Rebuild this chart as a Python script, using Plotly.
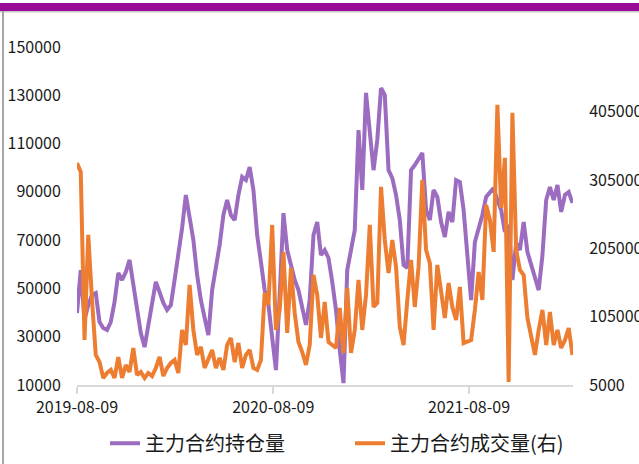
import pandas as pd
import plotly.graph_objects as go

# weekly observation dates
start_date = "2019-08-09"
n_weeks = 133
dates = pd.date_range(start_date, periods=n_weeks, freq="7D")

# 主力合约持仓量 (left axis)
open_interest = [
    39800, 57600, 37000, 43100, 47300, 48100, 36100, 33600, 32800, 36100,
    44400, 56400, 53500, 56800, 61800, 51400, 41100, 31500, 25700, 34900,
    46000, 52700, 48500, 44000, 41100, 43100, 53500, 63000, 75000, 88700,
    80400, 70100, 55600, 45200, 37800, 30700, 49300, 58500, 68000, 80400,
    86600, 80400, 78300, 88700, 96200, 94900, 100300, 90800, 72100, 61000,
    49300, 43100, 28600, 16200, 47300, 81200, 65900, 59700, 53500, 49300,
    42300, 34900, 45200, 72100, 77500, 63800, 65900, 62600, 52700, 41100,
    24500, 10800, 57600, 65900, 74200, 115600, 90800, 131000, 116900, 99000,
    111500, 133000, 130100, 99000, 95700, 88700, 78300, 59700, 58500, 99000,
    101100, 104000, 106100, 82500, 78300, 90800, 87900, 77500, 71300, 81700,
    77500, 94900, 94100, 82500, 65900, 45200, 69200, 74200, 80400, 87900,
    89900, 91600, 86600, 82500, 73400, 76300, 53500, 68800, 65900, 77500,
    65100, 59700, 54700, 49300, 63800, 86600, 92000, 86600, 92800, 81700,
    88700, 89900, 85400,
]

# 主力合约成交量 (right axis)
volume = [
    330000, 317000, 71000, 225000, 129500, 49000, 38700, 15300, 22600, 27000,
    15300, 46000, 15300, 34300, 24000, 59200, 19700, 24000, 15300, 22600,
    18200, 29900, 46000, 18200, 29900, 37200, 41600, 22600, 85600, 63600,
    151500, 85600, 49000, 60700, 29900, 41600, 56300, 29900, 44600, 27000,
    63600, 73900, 38700, 66500, 29900, 49000, 56300, 29900, 27000, 41600,
    139800, 122200, 239400, 85600, 114900, 199800, 81200, 176400, 110500, 68000,
    53300, 34300, 63600, 166200, 136900, 73900, 126600, 68000, 63600, 59200,
    117800, 51900, 147100, 51900, 85600, 158800, 85600, 136900, 239400, 119300,
    125100, 295100, 217400, 169100, 217400, 177900, 90000, 63600, 129500, 188100,
    119300, 177900, 305300, 202800, 183700, 85600, 180800, 136900, 103200, 154400,
    119300, 100200, 148600, 66500, 68000, 70900, 114900, 170500, 129500, 268700,
    246700, 200000, 415200, 264300, 337600, 9400, 403500, 202800, 173500, 166200,
    103200, 78300, 49000, 85600, 114900, 63600, 111900, 63600, 85600, 59200,
    70900, 88500, 49000,
]

x_tick_labels = ["2019-08-09", "2020-08-09", "2021-08-09"]
left_ticks = [10000, 30000, 50000, 70000, 90000, 110000, 130000, 150000]
right_ticks = [5000, 105000, 205000, 305000, 405000]

font_family = "Noto Sans CJK SC"
purple = "#9B6CBF"
orange = "#ED7D31"

fig = go.Figure()
fig.add_trace(go.Scatter(
    x=dates, y=open_interest, name="主力合约持仓量", mode="lines",
    line=dict(color=purple, width=4), yaxis="y", legend="legend",
))
fig.add_trace(go.Scatter(
    x=dates, y=volume, name="主力合约成交量(右)", mode="lines",
    line=dict(color=orange, width=4), yaxis="y2", legend="legend2",
))

legend_common = dict(
    orientation="h", xanchor="left", y=-0.172, yanchor="middle",
    font=dict(size=20, color="#1a1a1a"), bgcolor="rgba(0,0,0,0)",
)

fig.update_layout(
    width=639, height=464,
    margin=dict(l=77, r=66, t=47, b=79, autoexpand=False),
    paper_bgcolor="white", plot_bgcolor="white",
    font=dict(family=font_family, size=16, color="#1a1a1a"),
    showlegend=True,
    legend=dict(x=(105 - 77) / 496, **legend_common),
    legend2=dict(x=(350 - 77) / 496, **legend_common),
    xaxis=dict(
        type="date", range=["2019-08-09", "2022-02-19"],
        tickvals=x_tick_labels, ticktext=x_tick_labels,
        showgrid=False, zeroline=False,
        showline=True, linecolor="#d9d9d9", linewidth=2,
        ticks="outside", ticklen=7, tickcolor="#d9d9d9", tickwidth=1.5,
        tickfont=dict(size=16),
    ),
    yaxis=dict(
        range=[10000, 150000], tickvals=left_ticks, tickformat="d",
        showgrid=False, zeroline=False, showline=False,
        ticks="outside", ticklen=12, tickcolor="rgba(0,0,0,0)",
        tickfont=dict(size=16),
    ),
    yaxis2=dict(
        range=[5000, 500000], tickvals=right_ticks, tickformat="d",
        overlaying="y", side="right",
        showgrid=False, zeroline=False, showline=False,
        ticks="outside", ticklen=12, tickcolor="rgba(0,0,0,0)",
        tickfont=dict(size=16),
    ),
    shapes=[
        # thin grey line under the band
        dict(type="rect", xref="paper", yref="paper", x0=-0.2, x1=1.2,
             y0=(385 - 12.5) / 338, y1=(385 - 10) / 338,
             fillcolor="#c8c8c8", line=dict(width=0), layer="above"),
        # top magenta band
        dict(type="rect", xref="paper", yref="paper", x0=-0.2, x1=1.2,
             y0=(385 - 11) / 338, y1=(385 - 3) / 338,
             fillcolor="#990A99", line=dict(width=0), layer="above"),
        # left grey border
        dict(type="line", xref="paper", yref="paper",
             x0=(3 - 77) / 496, x1=(3 - 77) / 496,
             y0=(385 - 470) / 338, y1=(385 - 11) / 338,
             line=dict(color="#a6a6a6", width=2), layer="above"),
    ],
)

fig.write_html(
    "out.html",
    config={"displayModeBar": False},
    post_script="document.body.style.margin='0';document.body.style.overflow='hidden';",
)
